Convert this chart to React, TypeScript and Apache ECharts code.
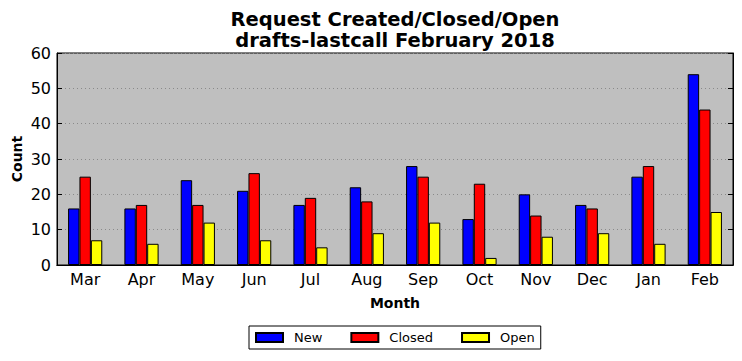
import React, { useEffect, useRef } from "react";
import * as echarts from "echarts";

const months = ["Mar", "Apr", "May", "Jun", "Jul", "Aug", "Sep", "Oct", "Nov", "Dec", "Jan", "Feb"];
const newVals = [16, 16, 24, 21, 17, 22, 28, 13, 20, 17, 25, 54];
const closedVals = [25, 17, 17, 26, 19, 18, 25, 23, 14, 16, 28, 44];
const openVals = [7, 6, 12, 7, 5, 9, 12, 2, 8, 9, 6, 15];
const titleLines = ["Request Created/Closed/Open", "drafts-lastcall February 2018"];
const yAxisTitle = "Count";

const FONT = "DejaVu Sans";

export default function App() {
  const ref = useRef<HTMLDivElement>(null);
  useEffect(() => {
    const chart = echarts.init(ref.current!, null, { renderer: "svg" });
    const barStyle = (color: string) => ({ color, borderColor: "#000", borderWidth: 1 });
    const titleStyle = (text: string) => ({
      text,
      fill: "#000",
      font: `bold 19.5px "${FONT}"`,
      textAlign: "center",
      textVerticalAlign: "middle",
    });
    chart.setOption({
      animation: false,
      textStyle: { fontFamily: FONT },
      graphic: [
        { type: "text", x: 395, y: 19.5, style: titleStyle(titleLines[0]) },
        { type: "text", x: 395, y: 40.5, style: titleStyle(titleLines[1]) },
        {
          type: "text",
          x: 16.5,
          y: 159,
          rotation: Math.PI / 2,
          style: {
            text: yAxisTitle,
            fill: "#000",
            font: `bold 14px "${FONT}"`,
            textAlign: "center",
            textVerticalAlign: "middle",
          },
        },
      ],
      legend: {
        left: 249,
        top: 326,
        orient: "horizontal",
        padding: [5, 6, 5, 6],
        borderColor: "#000",
        borderWidth: 1,
        backgroundColor: "#fff",
        itemWidth: 27,
        itemHeight: 9,
        itemGap: 28,
        icon: "rect",
        textStyle: { fontFamily: FONT, fontSize: 13, color: "#000", padding: [0, 0, 0, 6] },
        data: ["New", "Closed", "Open"],
      },
      grid: {
        left: 57,
        top: 53,
        right: 9,
        bottom: 96,
        containLabel: false,
        outerBoundsMode: "none",
        backgroundColor: "#bfbfbf",
        show: true,
        borderColor: "#000",
        borderWidth: 1,
      },
      xAxis: [
        {
          type: "category",
          data: months,
          name: "Month",
          nameLocation: "middle",
          nameGap: 31,
          nameTextStyle: { fontFamily: FONT, fontSize: 14, fontWeight: "bold", color: "#000" },
          axisLine: { lineStyle: { color: "#000" } },
          axisTick: { inside: true, alignWithLabel: true, length: 5, lineStyle: { color: "#000" } },
          axisLabel: { fontFamily: FONT, fontSize: 16, color: "#000", margin: 6 },
          splitLine: { show: false },
        },
        {
          type: "category",
          data: months,
          position: "top",
          axisLine: { lineStyle: { color: "#000" } },
          axisTick: { inside: true, alignWithLabel: true, length: 5, lineStyle: { color: "#000" } },
          axisLabel: { show: false },
        },
      ],
      yAxis: [
        {
          type: "value",
          min: 0,
          max: 60,
          interval: 10,
          axisLine: { show: true, lineStyle: { color: "#000" } },
          axisTick: { show: true, inside: true, length: 5, lineStyle: { color: "#000" } },
          axisLabel: { fontFamily: FONT, fontSize: 16, color: "#000", margin: 6 },
          splitLine: { show: true, lineStyle: { color: "#8a8a8a", type: [1, 3], width: 1 } },
        },
        {
          type: "value",
          min: 0,
          max: 60,
          interval: 10,
          position: "right",
          axisLine: { show: true, lineStyle: { color: "#000" } },
          axisTick: { show: true, inside: true, length: 5, lineStyle: { color: "#000" } },
          axisLabel: { show: false },
          splitLine: { show: false },
        },
      ],
      series: [
        { name: "New", type: "bar", data: newVals, itemStyle: barStyle("#0000ff"), barWidth: 11.4, barGap: 0 },
        { name: "Closed", type: "bar", data: closedVals, itemStyle: barStyle("#ff0000"), barWidth: 11.4, barGap: 0 },
        { name: "Open", type: "bar", data: openVals, itemStyle: barStyle("#ffff00"), barWidth: 11.4, barGap: 0 },
      ],
    });
    return () => chart.dispose();
  }, []);
  return <div ref={ref} style={{ width: 742, height: 361, position: "absolute", left: 0, top: 0 }} />;
}
